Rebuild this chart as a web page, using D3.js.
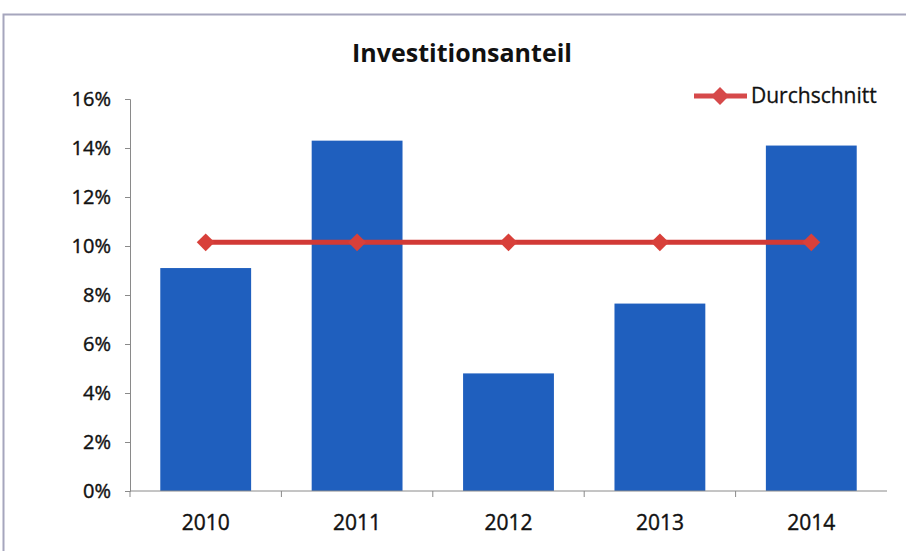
<!DOCTYPE html>
<html>
<head>
<meta charset="utf-8">
<script src="https://cdn.jsdelivr.net/npm/d3@7"></script>
<style>
  body { margin: 0; background: #fff; }
  svg { font-family: "Open Sans", Lato, sans-serif; }
</style>
</head>
<body>
<div id="chart"></div>
<script>
// data
const years = ["2010", "2011", "2012", "2013", "2014"];
const anteil = [9.1, 14.3, 4.8, 7.65, 14.1];
const durchschnitt = [10.15, 10.15, 10.15, 10.15, 10.15];
const yTicks = [0, 2, 4, 6, 8, 10, 12, 14, 16];

const width = 906, height = 551;
const margin = {top: 99, right: 20, bottom: 60, left: 130};

const svg = d3.select("#chart").append("svg")
    .attr("width", width)
    .attr("height", height);

// frame around the chart (runs off the right and bottom edge)
svg.append("rect")
    .attr("x", 3.5).attr("y", 14.5)
    .attr("width", width + 10).attr("height", height)
    .attr("fill", "none")
    .attr("stroke", "#a6a6bd")
    .attr("stroke-width", 2);

const x = d3.scaleBand()
    .domain(years)
    .range([margin.left, 887])
    .paddingInner(0.4)
    .paddingOuter(0.2);

const y = d3.scaleLinear()
    .domain([0, 16])
    .range([491, margin.top]);

// title
svg.append("text")
    .attr("x", 462).attr("y", 62)
    .attr("text-anchor", "middle")
    .attr("font-size", 25)
    .attr("font-weight", "bold")
    .attr("fill", "#111")
    .text("Investitionsanteil");

// bars
svg.selectAll("rect.bar")
  .data(anteil)
  .enter().append("rect")
    .attr("class", "bar")
    .attr("x", (d, i) => x(years[i]))
    .attr("y", d => y(d))
    .attr("width", x.bandwidth())
    .attr("height", d => y(0) - y(d))
    .attr("fill", "#1f5fbe");

// y axis
const yAxis = svg.append("g")
    .attr("transform", `translate(${margin.left},0)`)
    .call(d3.axisLeft(y).tickValues(yTicks).tickSize(5).tickPadding(14)
      .tickFormat(d => d + "%"));
yAxis.selectAll("text")
    .attr("font-size", 20)
    .attr("fill", "#111")
    .attr("stroke", "#111").attr("stroke-width", 0.4)
    .attr("font-family", "'Open Sans', sans-serif");
yAxis.selectAll("line, path").attr("stroke", "#8a8a8a");

// x axis, ticks on band edges
const xAxis = svg.append("g")
    .attr("transform", `translate(0,${y(0)})`);
xAxis.append("line")
    .attr("x1", margin.left).attr("x2", 887)
    .attr("stroke", "#8a8a8a");
const step = x.step();
const edges = years.map((d, i) => x(d) - x.paddingInner() * step / 2 - (i === 0 ? x.paddingOuter() * step - x.paddingInner() * step / 2 : 0));
xAxis.selectAll("line.tick")
  .data(edges)
  .enter().append("line")
    .attr("class", "tick")
    .attr("x1", d => d).attr("x2", d => d)
    .attr("y1", 0).attr("y2", 6)
    .attr("stroke", "#8a8a8a");
xAxis.selectAll("text")
  .data(years)
  .enter().append("text")
    .attr("x", d => x(d) + x.bandwidth() / 2)
    .attr("y", 39)
    .attr("text-anchor", "middle")
    .attr("font-size", 21)
    .attr("fill", "#111")
    .attr("stroke", "#111").attr("stroke-width", 0.4)
    .text(d => d);

// average line
const line = d3.line()
    .x((d, i) => x(years[i]) + x.bandwidth() / 2)
    .y(d => y(d));
svg.append("path")
    .datum(durchschnitt)
    .attr("d", line)
    .attr("fill", "none")
    .attr("stroke", "#d23a36")
    .attr("stroke-width", 5);

// diamond = square turned 45°
const diamond = d3.symbol().type(d3.symbolSquare).size(160);
svg.selectAll("path.marker")
  .data(durchschnitt)
  .enter().append("path")
    .attr("class", "marker")
    .attr("transform", (d, i) => `translate(${x(years[i]) + x.bandwidth() / 2},${y(d)}) rotate(45)`)
    .attr("d", diamond)
    .attr("fill", "#d8403a");

// legend
const legend = svg.append("g").attr("transform", "translate(694,96)");
legend.append("line")
    .attr("x1", 0).attr("x2", 53)
    .attr("stroke", "#d6494a").attr("stroke-width", 5);
legend.append("path")
    .attr("transform", "translate(26,0) rotate(45)")
    .attr("d", diamond)
    .attr("fill", "#d6494a");
legend.append("text")
    .attr("x", 57).attr("y", 7)
    .attr("font-size", 21)
    .attr("fill", "#111")
    .attr("stroke", "#111").attr("stroke-width", 0.3)
    .text("Durchschnitt");
</script>
</body>
</html>
